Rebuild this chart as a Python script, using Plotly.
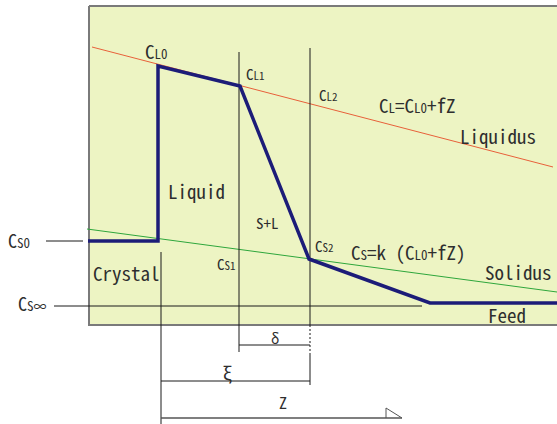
import plotly.graph_objects as go

# ---- diagram geometry (diagram units: x to the right, y downward) ----
panel_x = [89, 560, 560, 89, 89]
panel_y = [6, 6, 325, 325, 6]

liquidus_x = [92, 553]
liquidus_y = [47, 167]

solidus_x = [87, 557]
solidus_y = [229, 292]

# concentration profile: crystal -> liquid -> mushy zone -> feed
profile_x = [88, 158, 158, 240, 309, 430, 557]
profile_y = [241, 241, 66, 86, 259, 303, 303]

# thin guide lines (x pairs, y pairs)
guides = [
    ([239, 239], [52, 352]),     # boundary at C_L1
    ([310, 310], [48, 325]),     # boundary at C_L2 (inside panel)
    ([310, 310], [355, 385]),    # boundary at C_L2 (below panel)
    ([161, 161], [252, 424]),    # crystal interface
    ([46, 83], [241, 241]),      # C_S0 marker
    ([54, 422], [306, 306]),     # C_S-infinity level
    ([239, 310], [345, 345]),    # delta span
    ([161, 310], [381, 381]),    # xi span
]
gap_x = [310, 310]
gap_y = [325, 355]

z_axis_x = [161, 402]
z_axis_y = [418, 418]
arrow_x = [386, 386, 402]
arrow_y = [418, 408, 418]

# ---- labels ----
def sub(main, small, little=11):
    return f"{main}<span style='font-size:{little}px'>{small}</span>"

label_text = [
    sub("C", "L0", 13),
    sub("C", "L1", 11),
    sub("C", "L2", 11),
    sub("C", "L", 13) + "=" + sub("C", "L0", 13) + "+fZ",
    sub("C", "S2", 11),
    sub("C", "S1", 11),
    sub("C", "S", 13) + "=k (" + sub("C", "L0", 13) + "+fZ)",
    sub("C", "S0", 13),
    sub("C", "S\u221e", 13),
    "S+L",
    "\u03b4",
    "\u03be",
    "Z",
]
label_x = [156, 255, 328, 417, 324, 226, 408, 19, 32, 267, 275, 227, 283]
label_y = [50, 73, 94, 104, 245, 263, 251, 240, 303, 222, 338, 372, 402]
label_size = [19, 15, 15, 19, 15, 15, 19, 18, 18, 15, 14, 18, 16]

mono_text = ["Liquid", "Liquidus", "Crystal", "Solidus", "Feed"]
mono_x = [196, 498, 126, 518, 507]
mono_y = [190, 135, 272, 271, 314]
mono_size = [19, 19, 19, 19, 19]

NARROW = "Noto Sans Mono CJK JP, Noto Sans CJK JP, Liberation Sans Narrow, sans-serif"
MONO = "Noto Sans Mono CJK JP, Liberation Mono, DejaVu Sans Mono, monospace"
INK = "#2e2e2e"

fig = go.Figure()

fig.add_trace(go.Scatter(x=panel_x, y=panel_y, mode="lines", fill="toself",
                         fillcolor="#EDF4C3", line=dict(color="#7a7a7a", width=2),
                         hoverinfo="skip"))
fig.add_trace(go.Scatter(x=liquidus_x, y=liquidus_y, mode="lines",
                         line=dict(color="#E8603A", width=1), hoverinfo="skip"))
fig.add_trace(go.Scatter(x=solidus_x, y=solidus_y, mode="lines",
                         line=dict(color="#2EA63C", width=1), hoverinfo="skip"))
for gx, gy in guides:
    fig.add_trace(go.Scatter(x=gx, y=gy, mode="lines",
                             line=dict(color="#1a1a1a", width=1), hoverinfo="skip"))
fig.add_trace(go.Scatter(x=gap_x, y=gap_y, mode="lines",
                         line=dict(color="#1a1a1a", width=1, dash="2px,2px"),
                         hoverinfo="skip"))
fig.add_trace(go.Scatter(x=z_axis_x, y=z_axis_y, mode="lines",
                         line=dict(color="#555555", width=1.5), hoverinfo="skip"))
fig.add_trace(go.Scatter(x=arrow_x, y=arrow_y, mode="lines",
                         line=dict(color="#555555", width=1), hoverinfo="skip"))
fig.add_trace(go.Scatter(x=profile_x, y=profile_y, mode="lines",
                         line=dict(color="#1C1C78", width=3.5), hoverinfo="skip"))

for t, x, y, s in zip(label_text, label_x, label_y, label_size):
    fig.add_annotation(x=x, y=y, text=t, showarrow=False,
                       font=dict(family=NARROW, size=s, color=INK))
for t, x, y, s in zip(mono_text, mono_x, mono_y, mono_size):
    fig.add_annotation(x=x, y=y, text=t, showarrow=False,
                       font=dict(family=MONO, size=s, color=INK))

fig.update_layout(
    width=557, height=424,
    margin=dict(l=0, r=0, t=0, b=0),
    paper_bgcolor="white", plot_bgcolor="white",
    showlegend=False,
    xaxis=dict(range=[0, 557], visible=False, fixedrange=True),
    yaxis=dict(range=[424, 0], visible=False, fixedrange=True),
)

fig.write_html("out.html")
